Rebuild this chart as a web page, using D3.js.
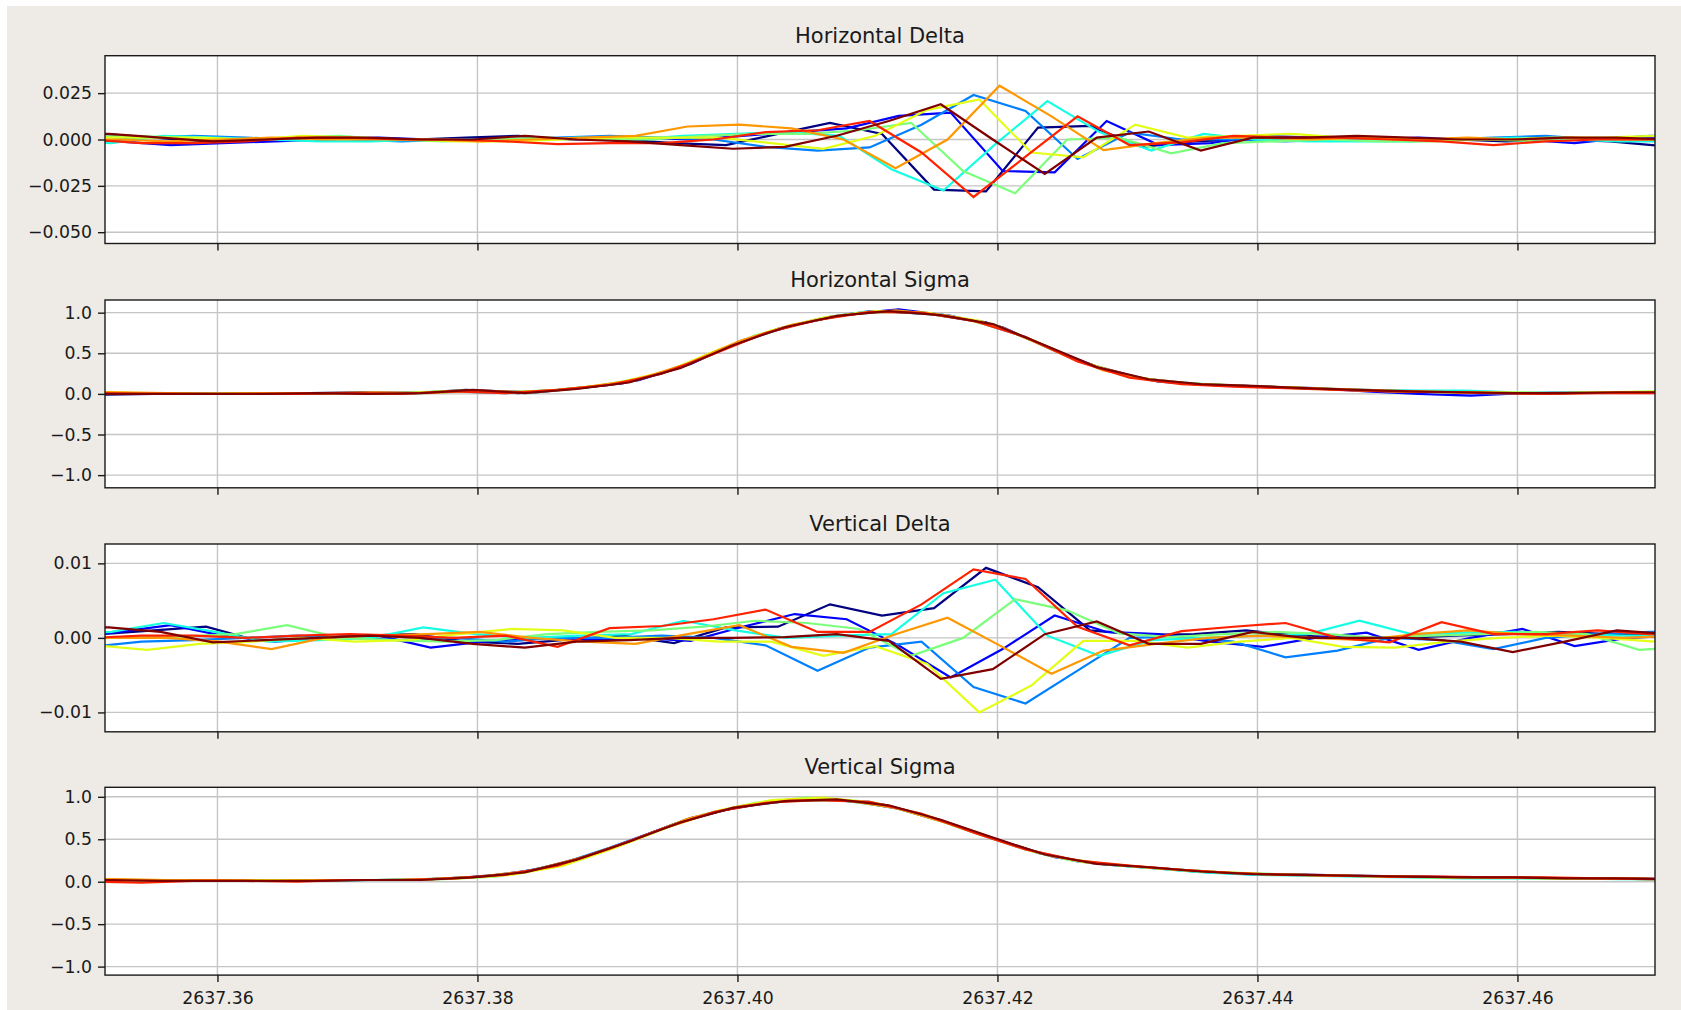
<!DOCTYPE html>
<html>
<head>
<meta charset="utf-8">
<script src="https://cdn.jsdelivr.net/npm/d3@7"></script>
<style>
  html, body { margin: 0; padding: 0; background: #ffffff; }
  svg { display: block; font-family: "DejaVu Sans", sans-serif; }
</style>
</head>
<body>
<svg id="chart" width="1681" height="1010"></svg>
<script>
// Frequency sweep grid shared by all runs, plus the small offset of each run
const freqGrid = [2637.3474, 2637.3514, 2637.3554, 2637.3594, 2637.3634, 2637.3674, 2637.3714, 2637.3754,
  2637.3794, 2637.3834, 2637.3874, 2637.3914, 2637.3954, 2637.3994, 2637.4034, 2637.4074,
  2637.4114, 2637.4154, 2637.4194, 2637.4234, 2637.4274, 2637.4314, 2637.4354, 2637.4394,
  2637.4434, 2637.4474, 2637.4514, 2637.4554, 2637.4594, 2637.4634, 2637.4674, 2637.4714];
const runOffsets = [-0.00028, 0.00100, 0.00276, 0.00044, 0.00196, 0.00320, 0.00076, 0.00276, 0.00024];
// jet colormap sampled at 9 points
const runColors = ["#000080", "#0000ff", "#0080ff", "#15ffe2", "#7bff7b", "#e2ff15", "#ff9700", "#ff2200", "#800000"];

const panelTitles = ["Horizontal Delta", "Horizontal Sigma", "Vertical Delta", "Vertical Sigma"];
const xTickValues = [2637.36, 2637.38, 2637.40, 2637.42, 2637.44, 2637.46];
const hDeltaTicks = [-0.05, -0.025, 0, 0.025];
const sigmaTicks = [-1, -0.5, 0, 0.5, 1];
const vDeltaTicks = [-0.01, 0, 0.01];

const hDeltaRuns = [
  [0.003,0.003,0.001,-0.001,0.0,0.001,0.0,0.0,0.001,0.002,0.0,0.0,-0.002,-0.003,0.003,0.009,0.003,-0.027,-0.028,0.0064,0.0073,-0.004,-0.001,0.0,0.001,0.001,0.0,0.0,-0.001,0.0,-0.001,-0.0035],
  [0.0,-0.001,-0.003,-0.002,-0.001,0.0,0.001,0.0,0.0,0.0,0.001,0.001,0.0,0.002,0.004,0.006,0.0127,0.0145,-0.017,-0.0177,0.010,-0.003,-0.002,0.002,0.001,0.0,0.001,0.0,0.0,-0.002,0.001,0.002],
  [-0.001,0.001,0.002,0.001,0.0,0.0,-0.001,0.0,0.0,0.001,0.002,0.001,0.0,-0.004,-0.006,-0.0043,0.008,0.024,0.0154,-0.0105,0.0037,0.0,0.0,-0.001,0.0,0.001,0.0,0.001,0.002,0.0,0.002,0.002],
  [-0.001,-0.002,0.002,0.001,0.0,-0.001,-0.001,0.0,0.0,0.0,0.001,0.0,0.002,0.003,0.004,0.002,-0.016,-0.0275,-0.0025,0.0207,0.004,-0.006,0.003,0.0,-0.001,-0.001,-0.001,0.0,0.001,0.0,-0.001,-0.001],
  [0.001,0.002,0.001,0.0,0.001,0.002,0.0,-0.001,0.0,0.001,0.0,0.0,0.002,0.003,0.003,0.005,0.009,-0.017,-0.029,0.0,0.001,-0.0075,-0.002,-0.001,0.0,-0.001,-0.001,0.0,-0.001,0.0,0.0,0.0],
  [0.001,0.001,0.001,0.0,0.002,0.001,0.0,-0.001,-0.001,0.0,0.001,0.001,0.001,-0.002,-0.005,0.002,0.016,0.0216,-0.007,-0.0096,0.008,0.001,0.002,0.003,0.001,0.0,0.0,0.0,0.001,0.001,0.002,0.002],
  [0.0,0.0,-0.001,0.0,0.001,0.0,0.0,0.0,-0.001,0.0,0.001,0.002,0.007,0.008,0.006,0.0,-0.0155,0.0,0.029,0.0125,-0.0057,-0.002,0.001,0.001,0.0,0.001,0.0,0.001,0.0,0.001,0.0,0.0],
  [0.0,-0.002,-0.002,-0.001,0.001,0.001,0.0,0.0,-0.001,-0.0025,-0.002,-0.002,0.0,0.004,0.005,0.010,-0.007,-0.031,-0.0093,0.0125,-0.003,-0.0016,0.002,0.001,0.001,0.0,-0.001,-0.003,-0.001,0.0,0.0,0.0],
  [0.003,0.003,0.001,-0.001,0.0,0.001,0.001,0.0,0.0,0.002,0.0,-0.001,-0.003,-0.005,-0.004,0.002,0.010,0.019,0.0,-0.0186,0.001,0.0043,-0.006,0.001,0.001,0.002,0.001,0.0,0.0,0.001,0.001,0.0]
];

const hSigmaRuns = [
  [0.0,-0.01,0.0,0.0,0.0,0.01,0.02,0.01,0.05,0.01,0.06,0.13,0.30,0.57,0.80,0.95,1.02,0.98,0.88,0.63,0.36,0.19,0.12,0.10,0.07,0.05,0.03,0.02,0.01,0.01,0.02,0.02],
  [0.0,0.0,0.0,0.0,0.01,0.01,0.01,0.02,0.04,0.02,0.08,0.17,0.37,0.66,0.85,0.98,1.04,0.96,0.82,0.53,0.29,0.15,0.11,0.09,0.07,0.03,0.0,-0.02,0.01,0.02,0.02,0.02],
  [0.01,0.01,0.0,0.0,0.01,0.01,0.01,0.03,0.01,0.05,0.11,0.25,0.50,0.75,0.92,1.02,1.0,0.90,0.70,0.41,0.21,0.13,0.10,0.08,0.06,0.04,0.03,0.01,0.01,0.02,0.02,0.02],
  [0.0,0.0,0.0,0.0,0.0,0.01,0.01,0.01,0.04,0.01,0.07,0.15,0.34,0.62,0.83,0.97,1.02,0.97,0.85,0.58,0.31,0.17,0.12,0.09,0.07,0.05,0.04,0.04,0.02,0.01,0.02,0.03],
  [0.0,0.0,0.0,0.01,0.0,0.01,0.01,0.03,0.02,0.04,0.10,0.22,0.44,0.72,0.89,1.0,1.01,0.93,0.75,0.46,0.24,0.14,0.11,0.08,0.06,0.04,0.02,0.01,0.01,0.02,0.02,0.03],
  [0.02,0.01,0.0,0.01,0.01,0.01,0.01,0.04,0.02,0.05,0.13,0.28,0.55,0.78,0.94,1.02,1.0,0.90,0.67,0.39,0.20,0.13,0.10,0.08,0.05,0.03,0.02,0.02,0.01,0.02,0.03,0.03],
  [0.03,0.02,0.01,0.0,0.01,0.01,0.02,0.01,0.04,0.02,0.08,0.17,0.37,0.65,0.85,0.97,1.03,0.96,0.83,0.55,0.29,0.16,0.11,0.09,0.07,0.05,0.03,0.02,0.01,0.01,0.02,0.02],
  [0.01,0.0,0.0,0.0,0.0,0.01,0.0,0.03,0.01,0.05,0.11,0.25,0.49,0.75,0.91,1.01,1.0,0.90,0.70,0.40,0.20,0.12,0.09,0.07,0.05,0.03,0.02,0.01,0.0,0.01,0.01,0.01],
  [0.0,0.0,0.0,0.0,0.0,0.01,0.0,0.01,0.05,0.01,0.06,0.14,0.32,0.60,0.82,0.96,1.02,0.97,0.86,0.60,0.33,0.18,0.12,0.10,0.07,0.05,0.03,0.02,0.01,0.01,0.02,0.02]
];

const vDeltaRuns = [
  [0.0003,0.0005,0.001,0.0015,-0.0004,0.0,0.0003,0.0005,-0.0005,-0.0008,-0.0002,0.0003,-0.0007,0.0014,0.0015,0.0045,0.003,0.004,0.0094,0.0068,0.001,0.0004,0.0005,0.001,0.0003,0.0,0.0,0.0003,0.0005,0.0008,0.0005,0.0003],
  [0.0,0.0008,0.0017,0.0003,-0.0005,0.0,0.0003,-0.0013,-0.0005,0.0,-0.0003,0.0,-0.0004,0.0015,0.0032,0.0025,-0.001,-0.0053,-0.0015,0.003,0.0008,0.0005,-0.0005,-0.0012,0.0,0.0007,-0.0016,0.0,0.0012,-0.0011,0.0,0.0003],
  [-0.0012,-0.0005,-0.0003,0.0,0.0003,0.0,-0.0003,0.0,-0.0005,0.0,0.0,0.0003,0.0,-0.001,-0.0044,-0.0013,-0.0005,-0.0066,-0.0088,-0.0044,0.0,0.0002,-0.0005,-0.0026,-0.0017,0.0,-0.0003,-0.0015,0.0,0.0005,0.0008,0.0008],
  [0.0005,0.0008,0.002,0.0008,-0.0005,-0.0003,0.0,0.0014,0.0005,0.0,0.0003,0.0005,0.0023,0.001,0.0,0.0003,0.0005,0.006,0.0078,0.0003,-0.0024,-0.0003,0.0,0.0003,0.0005,0.0023,0.0005,0.0007,0.0008,0.0005,0.0003,0.0003],
  [0.0,0.0,0.0002,0.0005,0.0017,0.0,-0.0003,-0.0005,-0.0003,0.0005,0.0008,0.001,0.0015,0.0023,0.002,0.0012,-0.0024,0.0,0.0052,0.0037,0.0006,0.0001,0.0005,0.0008,0.0005,0.0,0.0003,0.0005,0.0008,0.0005,-0.0016,-0.0012],
  [-0.001,-0.0016,-0.0008,-0.0005,0.0,-0.0005,-0.0003,0.0005,0.0012,0.001,0.0,0.0,-0.0005,-0.0005,-0.0024,-0.0011,-0.0035,-0.010,-0.0064,-0.0004,-0.0004,-0.0013,-0.0005,0.0,-0.0012,-0.0013,-0.0005,0.0,0.0003,0.0,-0.0005,-0.0005],
  [0.0,0.0,0.0,-0.0005,-0.0015,0.0,0.0003,0.0005,0.0008,0.0,-0.0005,-0.0008,0.0005,0.0017,-0.0012,-0.002,0.0005,0.0027,-0.001,-0.0048,-0.0017,-0.0008,0.0,0.0003,0.0,-0.0003,0.0005,0.001,0.0005,0.0003,0.0,0.0003],
  [0.0,0.0003,0.0003,0.0,0.0003,0.0005,0.0003,0.0,0.0003,-0.0012,0.0013,0.0016,0.0025,0.0038,0.0008,0.0008,0.0045,0.0092,0.0079,0.0015,-0.001,0.0009,0.0015,0.002,0.0,-0.0006,0.0021,0.0005,0.0005,0.001,0.0005,0.0005],
  [0.0015,0.0014,0.0008,-0.0006,-0.0003,0.0,0.0003,0.0,-0.0008,-0.0013,-0.0005,-0.0003,0.0,0.0,0.0001,0.0005,-0.0004,-0.0055,-0.0042,0.0005,0.0022,-0.0008,-0.0008,0.0008,0.0,0.0,0.0,-0.0005,-0.0019,-0.0005,0.001,0.0005]
];

const vSigmaRuns = [
  [0.01,0.01,0.02,0.01,0.01,0.01,0.02,0.02,0.05,0.10,0.24,0.44,0.68,0.85,0.95,0.97,0.91,0.75,0.54,0.34,0.22,0.17,0.12,0.09,0.08,0.07,0.06,0.05,0.05,0.04,0.04,0.03],
  [0.01,0.02,0.02,0.01,0.01,0.02,0.02,0.03,0.06,0.14,0.30,0.52,0.75,0.89,0.96,0.96,0.86,0.68,0.47,0.29,0.20,0.16,0.11,0.09,0.08,0.07,0.06,0.05,0.05,0.04,0.04,0.03],
  [0.01,0.02,0.01,0.01,0.02,0.02,0.02,0.04,0.08,0.20,0.40,0.62,0.82,0.94,0.97,0.94,0.80,0.58,0.38,0.24,0.18,0.14,0.10,0.08,0.07,0.06,0.05,0.05,0.04,0.04,0.03,0.03],
  [0.02,0.01,0.01,0.02,0.02,0.01,0.02,0.03,0.05,0.12,0.27,0.48,0.72,0.88,0.95,0.96,0.88,0.71,0.50,0.31,0.21,0.16,0.11,0.08,0.07,0.06,0.05,0.04,0.04,0.04,0.03,0.03],
  [0.01,0.01,0.02,0.01,0.01,0.02,0.02,0.03,0.06,0.16,0.34,0.57,0.79,0.93,0.99,0.95,0.83,0.62,0.42,0.26,0.19,0.15,0.11,0.09,0.07,0.06,0.05,0.05,0.04,0.04,0.03,0.03],
  [0.03,0.02,0.01,0.02,0.02,0.02,0.02,0.04,0.08,0.19,0.40,0.64,0.84,0.96,0.99,0.93,0.78,0.56,0.36,0.23,0.18,0.13,0.10,0.08,0.07,0.06,0.05,0.05,0.04,0.04,0.03,0.03],
  [0.04,0.03,0.02,0.02,0.01,0.02,0.02,0.03,0.06,0.13,0.29,0.50,0.74,0.89,0.96,0.96,0.87,0.69,0.48,0.30,0.21,0.16,0.12,0.09,0.08,0.07,0.06,0.05,0.05,0.04,0.04,0.03],
  [0.0,-0.01,0.01,0.01,0.0,0.02,0.02,0.04,0.08,0.19,0.39,0.62,0.82,0.93,0.96,0.94,0.80,0.58,0.38,0.25,0.19,0.14,0.10,0.08,0.07,0.06,0.06,0.05,0.05,0.04,0.03,0.03],
  [0.02,0.02,0.01,0.01,0.01,0.01,0.02,0.02,0.05,0.11,0.26,0.47,0.70,0.87,0.95,0.97,0.90,0.73,0.52,0.32,0.21,0.17,0.12,0.09,0.08,0.07,0.06,0.05,0.05,0.04,0.04,0.03]
];

// ---- layout ----
const W = 1681, H = 1010;
const plotLeft = 105, plotRight = 1655;
const panelTops = [55.7, 300, 544, 787.3];
const panelHeight = 187.8;

const panels = [
  { title: panelTitles[0], runs: hDeltaRuns, domain: [-0.0561, 0.0452], ticks: hDeltaTicks, fmt: d3.format(".3f") },
  { title: panelTitles[1], runs: hSigmaRuns, domain: [-1.156, 1.156], ticks: sigmaTicks, fmt: d3.format(".1f") },
  { title: panelTitles[2], runs: vDeltaRuns, domain: [-0.0126, 0.0126], ticks: vDeltaTicks, fmt: d3.format(".2f") },
  { title: panelTitles[3], runs: vSigmaRuns, domain: [-1.1, 1.112], ticks: sigmaTicks, fmt: d3.format(".1f") }
];

const svg = d3.select("#chart");

// figure background
svg.append("rect").attr("x", 0).attr("y", 0).attr("width", W).attr("height", H).attr("fill", "#ffffff");
svg.append("rect").attr("x", 7).attr("y", 6).attr("width", W - 7).attr("height", H - 6).attr("fill", "#eeebe6");

const x = d3.scaleLinear().domain([2637.35135, 2637.47058]).range([plotLeft, plotRight]);

const gridColor = "#c6c4c6";
const frameColor = "#1a1a1a";
const textColor = "#1a1a1a";

panels.forEach((p, pi) => {
  const top = panelTops[pi];
  const y = d3.scaleLinear().domain(p.domain).range([top + panelHeight, top]);
  const g = svg.append("g");

  // axes face
  g.append("rect").attr("x", plotLeft).attr("y", top)
    .attr("width", plotRight - plotLeft).attr("height", panelHeight).attr("fill", "#ffffff");

  // grid lines
  g.append("g").selectAll("line").data(xTickValues).join("line")
    .attr("x1", d => x(d)).attr("x2", d => x(d))
    .attr("y1", top).attr("y2", top + panelHeight)
    .attr("stroke", gridColor).attr("stroke-width", 1.4);
  g.append("g").selectAll("line").data(p.ticks).join("line")
    .attr("x1", plotLeft).attr("x2", plotRight)
    .attr("y1", d => y(d)).attr("y2", d => y(d))
    .attr("stroke", gridColor).attr("stroke-width", 1.4);

  // clip region for the runs
  const clipId = "clip" + pi;
  svg.append("clipPath").attr("id", clipId).append("rect")
    .attr("x", plotLeft).attr("y", top).attr("width", plotRight - plotLeft).attr("height", panelHeight);

  const line = d3.line().x(d => x(d[0])).y(d => y(d[1]));
  const lines = g.append("g").attr("clip-path", `url(#${clipId})`);
  p.runs.forEach((vals, ri) => {
    const pts = vals.map((v, k) => [freqGrid[k] + runOffsets[ri], v]);
    lines.append("path").datum(pts)
      .attr("d", line)
      .attr("fill", "none")
      .attr("stroke", runColors[ri])
      .attr("stroke-width", 2.2)
      .attr("stroke-linejoin", "miter");
  });

  // frame
  g.append("rect").attr("x", plotLeft).attr("y", top)
    .attr("width", plotRight - plotLeft).attr("height", panelHeight)
    .attr("fill", "none").attr("stroke", frameColor).attr("stroke-width", 1.4);

  // y axis
  const yAxis = d3.axisLeft(y).tickValues(p.ticks).tickSize(7).tickPadding(6)
    .tickFormat(d => p.fmt(d).replace("-", "\u2212"));
  const ya = g.append("g").attr("transform", `translate(${plotLeft},0)`).call(yAxis);
  ya.select(".domain").remove();
  ya.selectAll(".tick line").attr("stroke", frameColor).attr("stroke-width", 1.4);
  ya.selectAll(".tick text").attr("fill", textColor)
    .style("font-size", "17.3px").style("font-family", "'DejaVu Sans', sans-serif");

  // x axis (labels only on the last panel)
  const last = pi === panels.length - 1;
  const xAxis = d3.axisBottom(x).tickValues(xTickValues).tickSize(7).tickPadding(10)
    .tickFormat(last ? d3.format(".2f") : () => "");
  const xa = g.append("g").attr("transform", `translate(0,${top + panelHeight})`).call(xAxis);
  xa.select(".domain").remove();
  xa.selectAll(".tick line").attr("stroke", frameColor).attr("stroke-width", 1.4);
  xa.selectAll(".tick text").attr("fill", textColor)
    .style("font-size", "17.3px").style("font-family", "'DejaVu Sans', sans-serif");

  // title
  g.append("text")
    .attr("x", (plotLeft + plotRight) / 2).attr("y", top - 13)
    .attr("text-anchor", "middle")
    .attr("fill", textColor)
    .style("font-size", "21px")
    .text(p.title);
});
</script>
</body>
</html>
